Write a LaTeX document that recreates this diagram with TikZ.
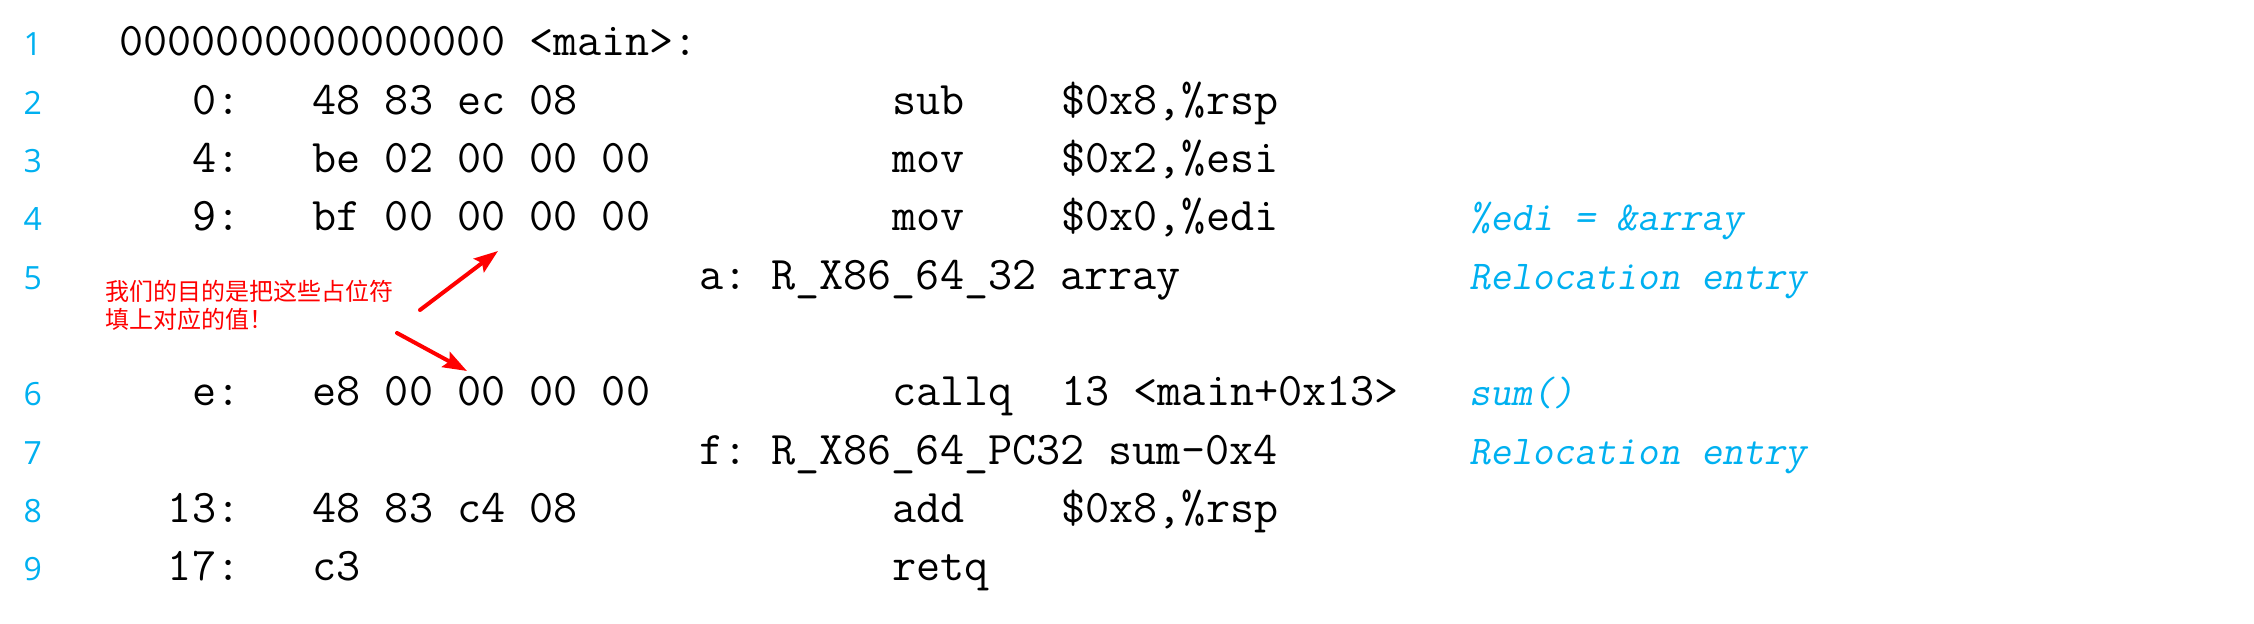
\documentclass[tikz,border=0pt]{standalone}
\usepackage{fontspec}
\usetikzlibrary{arrows.meta}
\newfontfamily\cjk{Noto Sans CJK SC}
\newfontfamily\lnofont{Open Sans}
\newfontfamily\slmono{Latin Modern Mono}[FakeSlant=0.18]
\definecolor{lnblue}{RGB}{0,176,240}
\frenchspacing

\begin{document}
\begin{tikzpicture}[x=0.5pt,y=-0.5pt,
    every node/.style={inner sep=0pt,outer sep=0pt},
    code/.style={anchor=base west,font=\fontsize{23.4}{27}\selectfont\ttfamily},
    addr/.style={code,anchor=base east},
    cmt/.style={anchor=base west,text=lnblue,font=\fontsize{20.5}{24}\selectfont\slmono},
    lno/.style={anchor=base,text=lnblue,font=\fontsize{16}{19}\selectfont\lnofont},
    note/.style={anchor=base west,align=left,text=red,font=\fontsize{12}{14.15}\selectfont\cjk},
    hint/.style={red,line width=2pt,line cap=round,-{Stealth[length=12pt,width=8.5pt,inset=2pt]}}]

\useasboundingbox (0,0) rectangle (2254,624);

% line numbers
\foreach \n/\y in {1/56,2/114.3,3/172.6,4/230.9,5/289.2,6/405.8,7/464.1,8/522.4,9/580.7}
  \node[lno] (ln\n) at (32.7,\y) {\n};

\node[code] (head) at (119.5,56) {0000000000000000 <main>:};

\node[addr] (addr2) at (240.3,114.3) {0:};
\node[code] (hex2) at (312.7,114.3) {48 83 ec 08};
\node[code] (op2) at (892.3,114.3) {sub};
\node[code] (arg2) at (1061.4,114.3) {\$0x8,\%rsp};

\node[addr] (addr3) at (240.3,172.6) {4:};
\node[code] (hex3) at (312.7,172.6) {be 02 00 00 00};
\node[code] (op3) at (892.3,172.6) {mov};
\node[code] (arg3) at (1061.4,172.6) {\$0x2,\%esi};

\node[addr] (addr4) at (240.3,230.9) {9:};
\node[code] (hex4) at (312.7,230.9) {bf 00 00 00 00};
\node[code] (op4) at (892.3,230.9) {mov};
\node[code] (arg4) at (1061.4,230.9) {\$0x0,\%edi};
\node[cmt] (cmt4) at (1469,230.9) {\%edi = \&array};

\node[code] (rel5) at (699.1,289.2) {a: R\_X86\_64\_32 array};
\node[cmt] (cmt5) at (1469,289.2) {Relocation entry};

\node[addr] (addr6) at (240.3,405.8) {e:};
\node[code] (hex6) at (312.7,405.8) {e8 00 00 00 00};
\node[code] (op6) at (892.3,405.8) {callq};
\node[code] (arg6) at (1061.4,405.8) {13 <main+0x13>};
\node[cmt] (cmt6) at (1469,405.8) {sum()};

\node[code] (rel7) at (699.1,464.1) {f: R\_X86\_64\_PC32 sum-0x4};
\node[cmt] (cmt7) at (1469,464.1) {Relocation entry};

\node[addr] (addr8) at (240.3,522.4) {13:};
\node[code] (hex8) at (312.7,522.4) {48 83 c4 08};
\node[code] (op8) at (892.3,522.4) {add};
\node[code] (arg8) at (1061.4,522.4) {\$0x8,\%rsp};

\node[addr] (addr9) at (240.3,580.7) {17:};
\node[code] (hex9) at (312.7,580.7) {c3};
\node[code] (op9) at (892.3,580.7) {retq};

% red remark
\node[note] (goal) at (105.5,328.4) {我们的目的是把这些占位符\\填上对应的值！};
\coordinate (tailA) at (420,310);
\coordinate (tipA) at (498,251);
\coordinate (tailB) at (397,333);
\coordinate (tipB) at (467,371);
\draw[hint] (tailA) -- (tipA);
\draw[hint] (tailB) -- (tipB);
\end{tikzpicture}
\end{document}
